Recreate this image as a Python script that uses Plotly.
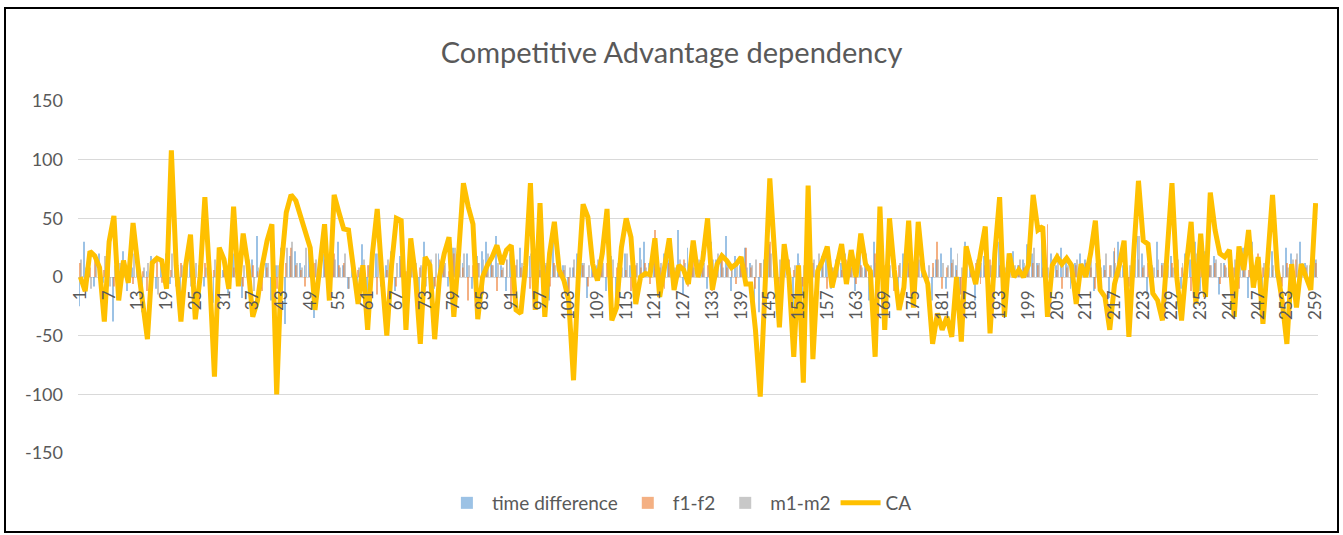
import plotly.graph_objects as go

categories = list(range(1, 260))

ca = [
    0, -12, 22, 18, 8, -38, 30, 52, -20, 14,
    -5, 46, 10, -20, -53, 12, 16, 14, -10, 108,
    10, -38, 10, 36, -36, 0, 68, 0, -85, 25,
    15, -10, 60, -8, 37, 10, -34, -20, 10, 31,
    45, -100, 10, 55, 70, 65, 52, 40, 25, -28,
    10, 45, -20, 70, 55, 41, 40, 5, -23, 10,
    -45, 20, 58, 0, -50, 10, 50, 48, -45, 33,
    0, -57, 17, 10, -53, 0, 20, 34, -34, 20,
    80, 60, 45, -36, 0, 10, 17, 27, 11, 23,
    27, -28, -31, 10, 80, -28, 63, -34, 20, 47,
    6, -3, -20, -88, 0, 62, 51, 11, -3, 20,
    58, -37, -26, 25, 50, 34, -23, 0, 3, 2,
    33, -17, 10, 33, -11, 10, 6, -6, 31, 0,
    15, 50, -11, 11, 18, 14, 8, 11, 17, -6,
    -6, -45, -102, 0, 84, 20, -43, 28, 0, -68,
    10, -90, 78, -70, 5, 14, 26, -9, 10, 28,
    -6, 23, 0, 37, 11, 5, -68, 60, -45, 50,
    6, -28, -9, 48, -26, 47, 6, -6, -57, -31,
    -45, -34, -51, 0, -55, 26, 10, -6, 20, 43,
    -48, 20, 68, -34, 20, 0, 6, 0, 10, 70,
    40, 43, -34, 10, 17, 11, 16, 10, -23, 11,
    0, 20, 48, -11, -17, -45, -6, 10, 31, -51,
    20, 82, 31, 28, -14, -20, -37, 20, 80, 0,
    -37, 10, 47, -23, 37, -17, 72, 40, 20, 17,
    23, -34, 26, 6, 40, -9, 17, -40, 20, 70,
    6, -20, -57, 11, -26, 11, 0, -11, 63,
]

time_difference = [
    -25, 30, 12, -8, 20, -5, 15, -38, 10, 22,
    -12, 8, 25, -30, 5, 18, -10, 12, 20, -6,
    14, -20, 8, 22, -15, 10, -8, 18, -22, 12,
    6, -14, 20, 10, -18, 8, 15, 35, -10, 12,
    -20, 10, 25, -40, 18, 22, 12, 10, 30, -35,
    8, 20, -12, 25, 30, 10, -10, 15, -20, 28,
    -15, 12, 20, -8, 10, 22, -12, 18, -20, 15,
    8, -18, 30, 12, -10, 20, 15, -8, 25, 30,
    12, 20, -10, 18, 22, 30, 15, 35, 10, -12,
    20, -15, 25, 10, 18, -10, 22, 12, -20, 30,
    15, 10, -25, 8, 20, 12, -18, 25, 10, 22,
    -12, 18, -30, 15, 20, 10, -10, 25, 30, 12,
    18, -8, 20, 15, 10, 40, -15, 25, 12, 8,
    22, -10, 30, 15, 20, 35, -12, 18, 10, 25,
    12, -20, -30, 15, 28, 10, -18, 22, 15, -25,
    20, -15, 30, -20, 10, 18, 25, -10, 15, 12,
    20, 10, -12, 25, 18, -20, 30, 15, -10, 22,
    10, -15, 20, 12, -18, 25, 10, -12, -20, 15,
    20, -10, 25, 10, -15, 30, 12, -20, 22, 18,
    -12, 25, 30, -10, 18, 22, 10, 15, 28, 20,
    12, 30, -15, 20, 10, 25, 18, -10, 12, 20,
    15, 25, -12, 20, 10, -18, 22, 30, 10, -20,
    25, 35, 20, -15, 10, 30, 12, -20, 18, 25,
    -10, 20, 15, 30, -12, 22, 10, 18, -15, 12,
    20, -10, 15, 25, -18, 30, 12, -20, 10, 22,
    18, -12, 25, 20, -15, 30, 12, 10, 15,
]

f1_f2 = [
    12, -5, 8, 15, -10, 6, 10, -8, 5, 12,
    8, -6, 10, 5, -12, 8, 14, -5, 10, 6,
    -8, 12, 5, 10, -6, 8, 12, -10, 6, 15,
    10, -5, 8, 12, -8, 6, 10, 5, -12, 8,
    15, -10, 8, 12, 25, 10, 6, -8, 20, 12,
    8, 15, -6, 20, 10, 12, -10, 8, 6, -12,
    10, 8, -15, 12, 6, 10, -8, 15, 5, 12,
    -10, 8, 12, 6, -8, 15, 10, 5, 20, 12,
    8, -20, 10, 12, -15, 8, 10, -12, 6, 15,
    -25, 10, 8, 12, -10, 15, 6, 10, -8, 12,
    10, 6, -12, 8, 15, 10, -8, 12, 6, 10,
    12, -10, 8, 15, 6, -12, 10, 8, 12, -6,
    40, 8, -10, 12, 6, 10, 15, -8, 30, 12,
    8, 10, -12, 6, 15, 8, 10, -6, 12, 25,
    8, -10, 12, 6, 30, 10, -12, 8, 15, 6,
    10, -8, 28, 12, 6, 10, -10, 8, 12, 6,
    15, 8, -6, 10, 12, -8, 20, 6, 10, 8,
    -12, 10, 8, 15, 6, 35, 10, -8, 12, 30,
    -10, 8, 12, 6, -15, 10, 8, 12, -6, 10,
    15, 8, 10, -25, 12, 6, 10, 8, 15, 12,
    10, 8, 45, 12, 6, -10, 8, 12, 10, 6,
    12, 8, -10, 15, 6, 10, 25, 8, 12, -8,
    10, 15, 8, 12, -10, 6, 10, 8, 12, 15,
    8, 10, -12, 6, 15, 8, 10, 12, -6, 10,
    12, 8, -10, 15, 6, 10, 20, 8, 12, 6,
    10, -8, 12, 6, 15, 10, 8, -6, 12,
]

m1_m2 = [
    15, 8, -10, 12, 6, 18, -8, 10, 12, 5,
    10, 20, -6, 8, 12, 10, -15, 8, 12, 20,
    6, 10, 15, -8, 12, 20, 8, -10, 15, 10,
    12, 8, 20, -6, 10, 15, -12, 8, 10, 12,
    20, 10, 15, 25, 30, 12, 8, 25, 10, 15,
    12, 25, 10, 15, 8, 20, -10, 12, 8, 15,
    10, 12, 20, -8, 15, 10, 12, 8, -6, 18,
    12, 10, -8, 15, 20, 10, 12, 8, 25, 15,
    20, 10, 8, 12, 15, 20, 10, 12, 8, 15,
    10, 15, 12, 8, 20, 10, 15, 12, 8, 10,
    12, 10, 8, 15, 20, 12, 10, 8, 15, 12,
    10, 15, 12, 8, 20, 10, 12, 15, 8, 10,
    15, 12, 10, 20, 8, 15, 12, 10, 8, 15,
    12, 10, 15, 20, 8, 12, 10, 15, 12, 8,
    10, 15, 12, 8, 20, 10, 15, 12, 8, 10,
    12, 10, 8, 15, 20, 12, 10, 8, 15, 12,
    10, 15, 12, 8, 20, 10, 12, 15, 8, 10,
    15, 12, 10, 20, 8, 15, 12, 10, 8, 15,
    12, 10, 15, 20, 8, 12, 10, 15, 12, 8,
    10, 15, 12, 8, 20, 10, 15, 12, 8, 25,
    12, 10, 8, 15, 20, 12, 10, 8, 15, 12,
    10, 15, 12, 8, 20, 10, 12, 15, 8, 10,
    15, 35, 10, 20, 8, 15, 12, 10, 8, 15,
    12, 10, 15, 20, 8, 12, 10, 15, 12, 8,
    10, 15, 12, 8, 20, 10, 15, 12, 8, 10,
    12, 10, 8, 15, 20, 12, 10, 8, 15,
]

tick_cats = list(range(1, 260, 6))
tick_labels = [str(c) for c in tick_cats]
y_ticks = [-150, -100, -50, 0, 50, 100, 150]
y_tick_labels = [str(v) for v in y_ticks]

FONT = "Lato"
TXT = "#595959"

fig = go.Figure()
fig.add_trace(go.Bar(x=categories, y=time_difference, name="time difference",
                     marker=dict(color="#5B9BD5", line=dict(width=0)), opacity=0.6))
fig.add_trace(go.Bar(x=categories, y=f1_f2, name="f1-f2",
                     marker=dict(color="#ED7D31", line=dict(width=0)), opacity=0.6))
fig.add_trace(go.Bar(x=categories, y=m1_m2, name="m1-m2",
                     marker=dict(color="#A5A5A5", line=dict(width=0)), opacity=0.6))
fig.add_trace(go.Scatter(x=categories, y=ca, name="CA", mode="lines",
                         line=dict(color="#FFC000", width=5)))

L, R, T, B = 78, 25, 101, 82
W, H = 1343, 535
pw, ph = W - L - R, H - T - B

def px_x(p):
    return (p - L) / pw

def px_y(p):
    return (H - B - p) / ph

fig.update_layout(
    width=W, height=H,
    margin=dict(l=L, r=R, t=T, b=B),
    paper_bgcolor="white", plot_bgcolor="white",
    barmode="group", bargap=0.42, bargroupgap=0,
    font=dict(family=FONT, color=TXT, size=17),
    title=dict(text="Competitive Advantage dependency", x=0.5, xanchor="center",
               y=1 - 53 / H, yanchor="middle",
               font=dict(family=FONT, size=29, color=TXT)),
    xaxis=dict(range=[0.5, 259.5], tickmode="array", tickvals=tick_cats,
               ticktext=tick_labels, tickangle=-90, showgrid=False,
               anchor="free", position=0.5, showline=False, zeroline=False,
               ticks="", ticklabelstandoff=9,
               tickfont=dict(size=17, color=TXT, family=FONT)),
    yaxis=dict(range=[-150, 150], tickmode="array", tickvals=y_ticks,
               ticktext=y_tick_labels, showgrid=True,
               gridcolor="#D9D9D9", gridwidth=1, zeroline=True,
               zerolinecolor="#D9D9D9", zerolinewidth=1, showline=False,
               ticks="", ticklabelstandoff=14,
               tickfont=dict(size=18, color=TXT, family=FONT)),
    legend=dict(orientation="h", x=0.485, xanchor="center", y=px_y(503),
                yanchor="middle", font=dict(size=19, color=TXT, family=FONT),
                itemwidth=40, traceorder="normal"),
    shapes=[dict(type="rect", xref="paper", yref="paper",
                 x0=px_x(5), x1=px_x(1338), y0=px_y(532), y1=px_y(8),
                 line=dict(color="black", width=2), fillcolor="rgba(0,0,0,0)",
                 layer="above")],
)

fig.write_html("out.html",
               config={"displayModeBar": False},
               post_script="document.body.style.margin='0';document.body.style.overflow='hidden';")
